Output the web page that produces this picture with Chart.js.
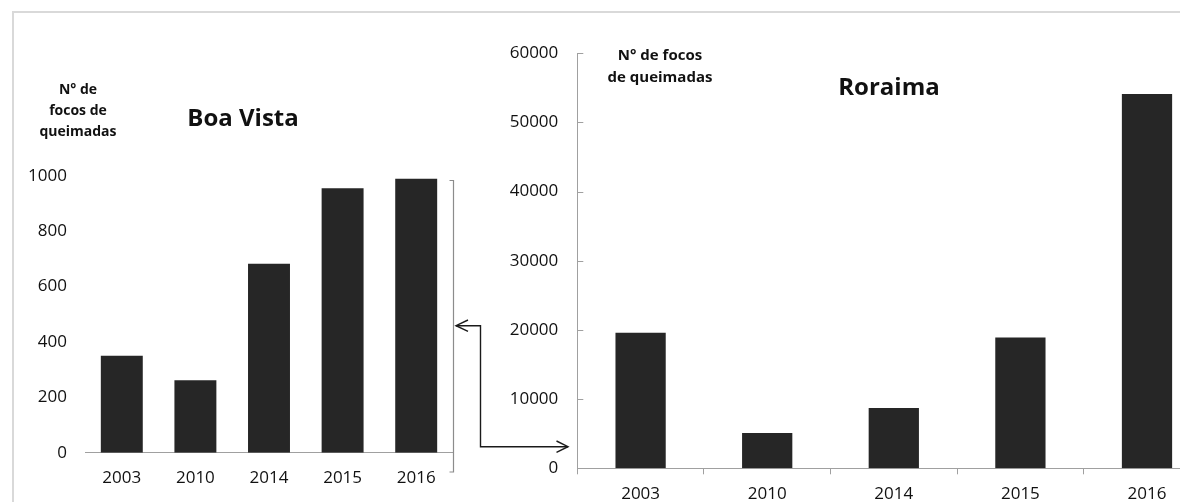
<!DOCTYPE html>
<html>
<head>
<meta charset="utf-8">
<script src="https://cdn.jsdelivr.net/npm/chart.js@4.4.1/dist/chart.umd.min.js"></script>
<style>
  html, body { margin: 0; padding: 0; background: #fff; overflow: hidden; }
  #page { position: relative; width: 1180px; height: 502px; overflow: hidden; font-family: "Open Sans", sans-serif; color: #111; }
  .frame { position: absolute; left: 12px; top: 11px; width: 1200px; height: 520px; border-top: 2px solid #d9d9d9; border-left: 2px solid #d9d9d9; }
  canvas { position: absolute; top: 0; }
  #boaVista { left: 0; }
  #roraima { left: 480px; }
  .lbl { position: absolute; transform: translate(-50%, -50%); white-space: nowrap; font-weight: 700; text-align: center; }
  .title { font-size: 24px; }
  .cap { font-size: 14px; line-height: 21px; }
  .cap2 { font-size: 15px; line-height: 21.7px; }
  svg { position: absolute; left: 0; top: 0; }
</style>
</head>
<body>
<div id="page">
  <div class="frame"></div>
  <canvas id="boaVista" width="480" height="502"></canvas>
  <canvas id="roraima" width="760" height="502"></canvas>

  <div class="lbl cap" style="left:78px; top:109px;">N° de<br>focos de<br>queimadas</div>
  <div class="lbl title" style="left:243px; top:116px;">Boa Vista</div>
  <div class="lbl cap2" style="left:660px; top:66px;">N° de focos<br>de queimadas</div>
  <div class="lbl title" style="left:889px; top:85px;">Roraima</div>

  <!-- bracket around the Boa Vista axis and the arrow pointing to the Roraima axis -->
  <svg width="1180" height="502">
    <path d="M449.5 180.5 H453.5 V472 H449.5" fill="none" stroke="#8c8c8c" stroke-width="1.2"/>
    <path d="M456 325.7 H480.5 V446.7 H568" fill="none" stroke="#1a1a1a" stroke-width="1.4"/>
    <path d="M468 320 L456 325.7 L468 331.4" fill="none" stroke="#1a1a1a" stroke-width="1.4"/>
    <path d="M556.5 441 L568 446.7 L556.5 452.4" fill="none" stroke="#1a1a1a" stroke-width="1.4"/>
  </svg>
</div>

<script>
// Years shown on both charts
const years = ['2003', '2010', '2014', '2015', '2016'];

// Fire hotspot counts (número de focos de queimadas)
const boaVistaFocos = [350, 262, 682, 955, 989];
const roraimaFocos = [19600, 5100, 8720, 18900, 54100];

// Axis ranges and tick steps
const boaVistaMax = 1000;
const boaVistaStep = 200;
const roraimaMax = 60000;
const roraimaStep = 10000;

const barColor = '#262626';
const axisColor = '#a0a0a0';
const tickFont = { family: 'Open Sans', size: 17 };
const textColor = '#111111';
const plainNumber = v => String(v);

Chart.defaults.font.family = 'Open Sans';

// Short tick marks drawn on the inner side of the Roraima value axis
const innerYTicks = {
  id: 'innerYTicks',
  afterDraw(chart) {
    const ys = chart.scales.y;
    const ctx = chart.ctx;
    ctx.save();
    ctx.strokeStyle = axisColor;
    ctx.lineWidth = 1;
    ys.ticks.forEach(t => {
      const py = Math.round(ys.getPixelForValue(t.value)) + 0.5;
      ctx.beginPath();
      ctx.moveTo(ys.right, py);
      ctx.lineTo(ys.right + 6, py);
      ctx.stroke();
    });
    ctx.restore();
  }
};

new Chart(document.getElementById('boaVista'), {
  type: 'bar',
  data: {
    labels: years,
    datasets: [{
      data: boaVistaFocos,
      backgroundColor: barColor,
      barPercentage: 0.57,
      categoryPercentage: 1.0
    }]
  },
  options: {
    responsive: false,
    devicePixelRatio: 1,
    animation: false,
    layout: { padding: { left: 0, right: 27, top: 175.7, bottom: 0 } },
    plugins: { legend: { display: false }, tooltip: { enabled: false }, title: { display: false } },
    scales: {
      x: {
        grid: { display: false, drawTicks: false },
        border: { display: true, color: axisColor, width: 1 },
        ticks: { font: tickFont, color: textColor, padding: 15, maxRotation: 0 },
        afterFit: s => { s.height = 49.3; }
      },
      y: {
        min: 0,
        max: boaVistaMax,
        grid: { display: false, drawTicks: false },
        border: { display: false },
        ticks: { stepSize: boaVistaStep, font: tickFont, color: textColor, padding: 18, callback: plainNumber },
        afterFit: s => { s.width = 85; }
      }
    }
  }
});

new Chart(document.getElementById('roraima'), {
  type: 'bar',
  data: {
    labels: years,
    datasets: [{
      data: roraimaFocos,
      backgroundColor: barColor,
      barPercentage: 0.397,
      categoryPercentage: 1.0
    }]
  },
  options: {
    responsive: false,
    devicePixelRatio: 1,
    animation: false,
    layout: { padding: { left: 0, right: 29.7, top: 53.1, bottom: 0 } },
    plugins: { legend: { display: false }, tooltip: { enabled: false }, title: { display: false } },
    scales: {
      x: {
        offset: true,
        grid: { display: true, offset: true, drawOnChartArea: false, drawTicks: true, tickLength: 6, color: axisColor },
        border: { display: true, color: axisColor, width: 1 },
        ticks: { font: tickFont, color: textColor, padding: 10, maxRotation: 0 },
        afterFit: s => { s.height = 33.7; }
      },
      y: {
        min: 0,
        max: roraimaMax,
        grid: { display: false, drawTicks: false },
        border: { display: true, color: axisColor, width: 1 },
        ticks: { stepSize: roraimaStep, font: tickFont, color: textColor, padding: 19, callback: plainNumber },
        afterFit: s => { s.width = 97.3; }
      }
    }
  },
  plugins: [innerYTicks]
});
</script>
</body>
</html>
